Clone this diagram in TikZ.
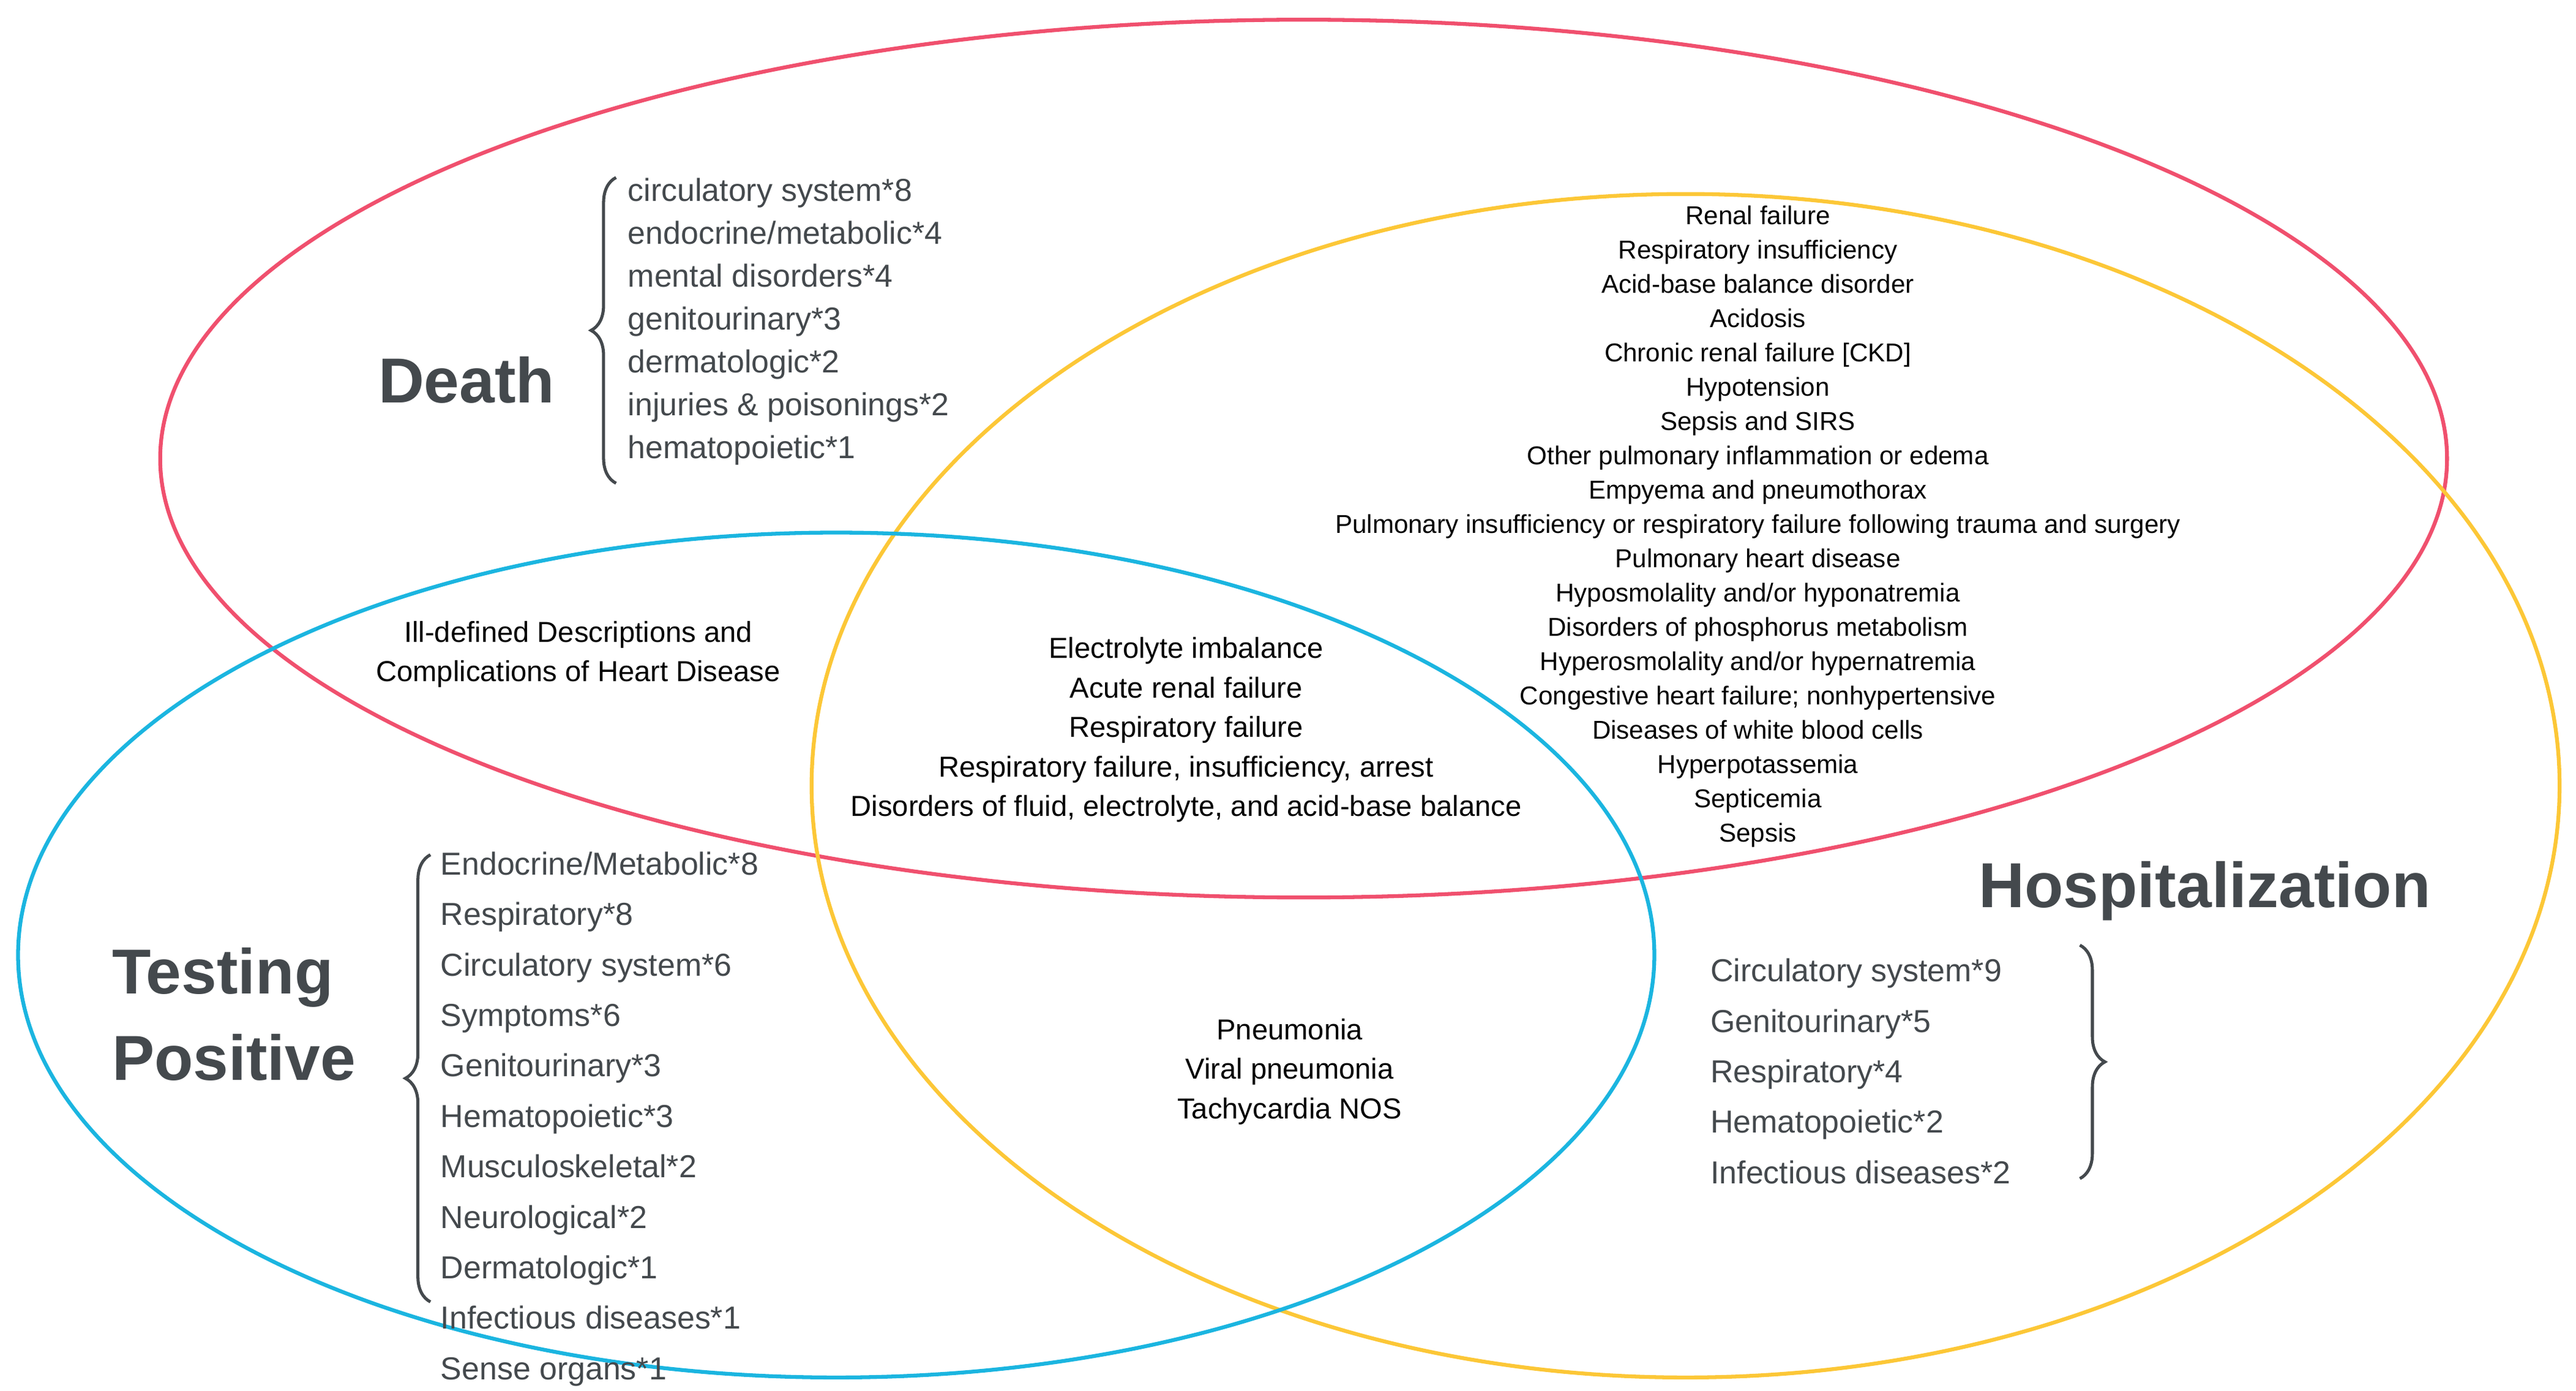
\documentclass[tikz,border=0pt]{standalone}
\usepackage{fontspec}
\setmainfont{Liberation Sans}
\usetikzlibrary{decorations.pathreplacing}
\definecolor{cred}{HTML}{F0506E}
\definecolor{cyel}{HTML}{FCC737}
\definecolor{cblu}{HTML}{1BB5E0}
\definecolor{cgry}{HTML}{44494D}
\begin{document}
\begin{tikzpicture}[x=0.03cm,y=-0.03cm,
  ell/.style={line width=2pt},
  small/.style={font=\fontsize{13.4}{17.8}\selectfont, align=center, inner sep=0pt, text=black},
  lst/.style={font=\fontsize{16.5}{22.3}\selectfont, align=left, inner sep=0pt, text=cgry, anchor=north west},
  big/.style={font=\fontsize{33}{38}\selectfont\bfseries, text=cgry, inner sep=0pt},
  brc/.style={draw=cgry, line width=1.6pt, decorate, decoration={brace, amplitude=13pt}}]
\useasboundingbox (0,0) rectangle (1568,846);
\draw[ell, cred] (793.5,279) ellipse [x radius=696, y radius=267];
\draw[ell, cyel] (1026,478) ellipse [x radius=532, y radius=360];
\draw[ell, cblu] (509,581) ellipse [x radius=498, y radius=257];

\node[big] (death) at (284,231) {Death};
\node[lst] (dlist) at (382,108) {circulatory system*8\\endocrine/metabolic*4\\mental disorders*4\\genitourinary*3\\dermatologic*2\\injuries \& poisonings*2\\hematopoietic*1};
\coordinate (db1) at (375,294); \coordinate (db2) at (375,108);
\draw[brc] (db1) -- (db2);

\node[small, anchor=north] (hlist) at (1070,125) {Renal failure\\Respiratory insufficiency\\Acid-base balance disorder\\Acidosis\\Chronic renal failure [CKD]\\Hypotension\\Sepsis and SIRS\\Other pulmonary inflammation or edema\\Empyema and pneumothorax\\Pulmonary insufficiency or respiratory failure following trauma and surgery\\Pulmonary heart disease\\Hyposmolality and/or hyponatremia\\Disorders of phosphorus metabolism\\Hyperosmolality and/or hypernatremia\\Congestive heart failure; nonhypertensive\\Diseases of white blood cells\\Hyperpotassemia\\Septicemia\\Sepsis};

\node[small, font=\fontsize{15}{20.5}\selectfont] (ill) at (352,398) {Ill-defined Descriptions and\\Complications of Heart Disease};
\node[small, font=\fontsize{15}{20.5}\selectfont] (center) at (722,444) {Electrolyte imbalance\\Acute renal failure\\Respiratory failure\\Respiratory failure, insufficiency, arrest\\Disorders of fluid, electrolyte, and acid-base balance};
\node[small, font=\fontsize{15}{20.5}\selectfont] (pn) at (785,652) {Pneumonia\\Viral pneumonia\\Tachycardia NOS};

\node[big, align=left, anchor=west, font=\fontsize{33}{45}\selectfont\bfseries] (tp) at (68,617) {Testing\\Positive};
\node[lst, font=\fontsize{16.5}{26.2}\selectfont] (tlist) at (268,518) {Endocrine/Metabolic*8\\Respiratory*8\\Circulatory system*6\\Symptoms*6\\Genitourinary*3\\Hematopoietic*3\\Musculoskeletal*2\\Neurological*2\\Dermatologic*1\\Infectious diseases*1\\Sense organs*1};
\coordinate (tb1) at (262,792); \coordinate (tb2) at (262,520);
\draw[brc] (tb1) -- (tb2);

\node[big] (hosp) at (1342,542) {Hospitalization};
\node[lst, font=\fontsize{16.5}{26.2}\selectfont] (hl2) at (1041,583) {Circulatory system*9\\Genitourinary*5\\Respiratory*4\\Hematopoietic*2\\Infectious diseases*2};
\coordinate (hb1) at (1266,575); \coordinate (hb2) at (1266,717);
\draw[brc] (hb1) -- (hb2);
\end{tikzpicture}
\end{document}
